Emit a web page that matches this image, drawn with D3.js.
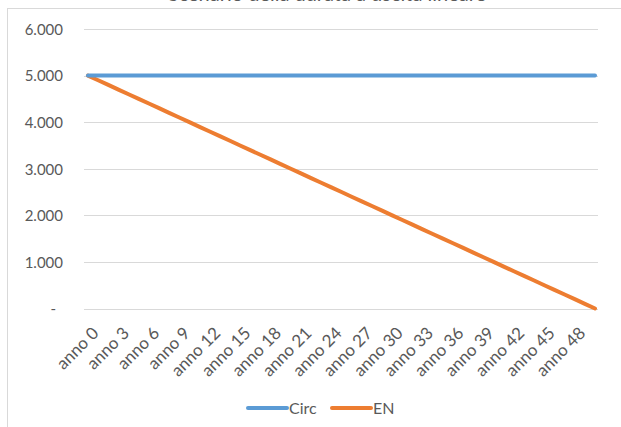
<!DOCTYPE html>
<html>
<head>
<meta charset="utf-8">
<script src="https://cdn.jsdelivr.net/npm/d3@7"></script>
<style>
  html, body { margin: 0; padding: 0; background: #fff; }
  svg { display: block; }
  text { font-family: Lato, "Open Sans", sans-serif; fill: #595959; }
</style>
</head>
<body>
<svg id="chart" width="621" height="427"></svg>
<script>
// Years on the horizontal axis
const years = ["anno 0","anno 1","anno 2","anno 3","anno 4","anno 5","anno 6","anno 7","anno 8","anno 9",
  "anno 10","anno 11","anno 12","anno 13","anno 14","anno 15","anno 16","anno 17","anno 18","anno 19",
  "anno 20","anno 21","anno 22","anno 23","anno 24","anno 25","anno 26","anno 27","anno 28","anno 29",
  "anno 30","anno 31","anno 32","anno 33","anno 34","anno 35","anno 36","anno 37","anno 38","anno 39",
  "anno 40","anno 41","anno 42","anno 43","anno 44","anno 45","anno 46","anno 47","anno 48","anno 49","anno 50"];

// Series values
const circ = [5000,5000,5000,5000,5000,5000,5000,5000,5000,5000,
  5000,5000,5000,5000,5000,5000,5000,5000,5000,5000,
  5000,5000,5000,5000,5000,5000,5000,5000,5000,5000,
  5000,5000,5000,5000,5000,5000,5000,5000,5000,5000,
  5000,5000,5000,5000,5000,5000,5000,5000,5000,5000,5000];
const en = [5000,4900,4800,4700,4600,4500,4400,4300,4200,4100,
  4000,3900,3800,3700,3600,3500,3400,3300,3200,3100,
  3000,2900,2800,2700,2600,2500,2400,2300,2200,2100,
  2000,1900,1800,1700,1600,1500,1400,1300,1200,1100,
  1000,900,800,700,600,500,400,300,200,100,0];

const yTicks = [0,1000,2000,3000,4000,5000,6000];
const seriesNames = ["Circ","EN"];
const seriesColors = ["#5B9BD5","#ED7D31"];
const chartTitle = "Scenario della durata a uscita lineare";

const svg = d3.select("#chart");

// Chart frame (extends past the right and bottom edges)
svg.append("rect")
  .attr("x", 7.5).attr("y", 8.5)
  .attr("width", 640).attr("height", 440)
  .attr("fill", "#fff").attr("stroke", "#D9D9D9").attr("stroke-width", 1);

// Title sits above the frame, mostly outside the page
svg.append("text")
  .attr("x", 327).attr("y", 1)
  .attr("text-anchor", "middle")
  .style("font-size", "20px")
  .text(chartTitle);

const x = d3.scalePoint().domain(years).range([88, 595]);
const y = d3.scaleLinear().domain([0, 6000]).range([308.5, 29]);

const itFmt = d3.formatLocale({decimal: ",", thousands: ".", grouping: [3], currency: ["€",""]}).format(",.0f");

// Horizontal gridlines
svg.append("g")
  .selectAll("line")
  .data(yTicks)
  .join("line")
  .attr("x1", 84).attr("x2", 598)
  .attr("y1", d => Math.round(y(d)) + 0.5)
  .attr("y2", d => Math.round(y(d)) + 0.5)
  .attr("stroke", "#D9D9D9").attr("stroke-width", 1);

// Y axis labels
const yAxis = d3.axisLeft(y).tickValues(yTicks).tickSize(0).tickPadding(0)
  .tickFormat(d => d === 0 ? "-" : itFmt(d));
const yg = svg.append("g").attr("transform", "translate(63,0)").call(yAxis);
yg.select(".domain").remove();
yg.selectAll("text")
  .style("font-size", "15px").style("font-family", "Lato, sans-serif").attr("fill", "#595959")
  .attr("dy", "0.35em");
yg.selectAll(".tick").filter(d => d === 0).select("text").attr("x", -7);

// X axis labels, every third year
const xAxis = d3.axisBottom(x).tickValues(years.filter((d, i) => i % 3 === 0)).tickSize(0).tickPadding(0);
const xg = svg.append("g").attr("transform", "translate(0,318)").call(xAxis);
xg.select(".domain").remove();
xg.selectAll("text")
  .style("font-size", "17px").style("font-family", "Lato, sans-serif").attr("fill", "#595959")
  .attr("text-anchor", "end")
  .attr("x", 0).attr("y", 0).attr("dy", "0.6em")
  .attr("transform", "translate(4,9) rotate(-45)");

// Lines
const line = d3.line().x((d, i) => x(years[i])).y(d => y(d));
[en, circ].forEach((s, k) => {
  svg.append("path")
    .datum(s)
    .attr("d", line)
    .attr("fill", "none")
    .attr("stroke", k === 0 ? seriesColors[1] : seriesColors[0])
    .attr("stroke-width", 4)
    .attr("stroke-linecap", "round")
    .attr("stroke-linejoin", "round");
});

// Legend
const legend = svg.append("g").attr("transform", "translate(0,408)");
const legendX = [248, 332];
seriesNames.forEach((name, i) => {
  legend.append("line")
    .attr("x1", legendX[i]).attr("x2", legendX[i] + 39)
    .attr("y1", 0).attr("y2", 0)
    .attr("stroke", seriesColors[i]).attr("stroke-width", 4).attr("stroke-linecap", "round");
  legend.append("text")
    .attr("x", legendX[i] + 41).attr("y", 0).attr("dy", "0.35em")
    .style("font-size", "16px")
    .text(name);
});
</script>
</body>
</html>
